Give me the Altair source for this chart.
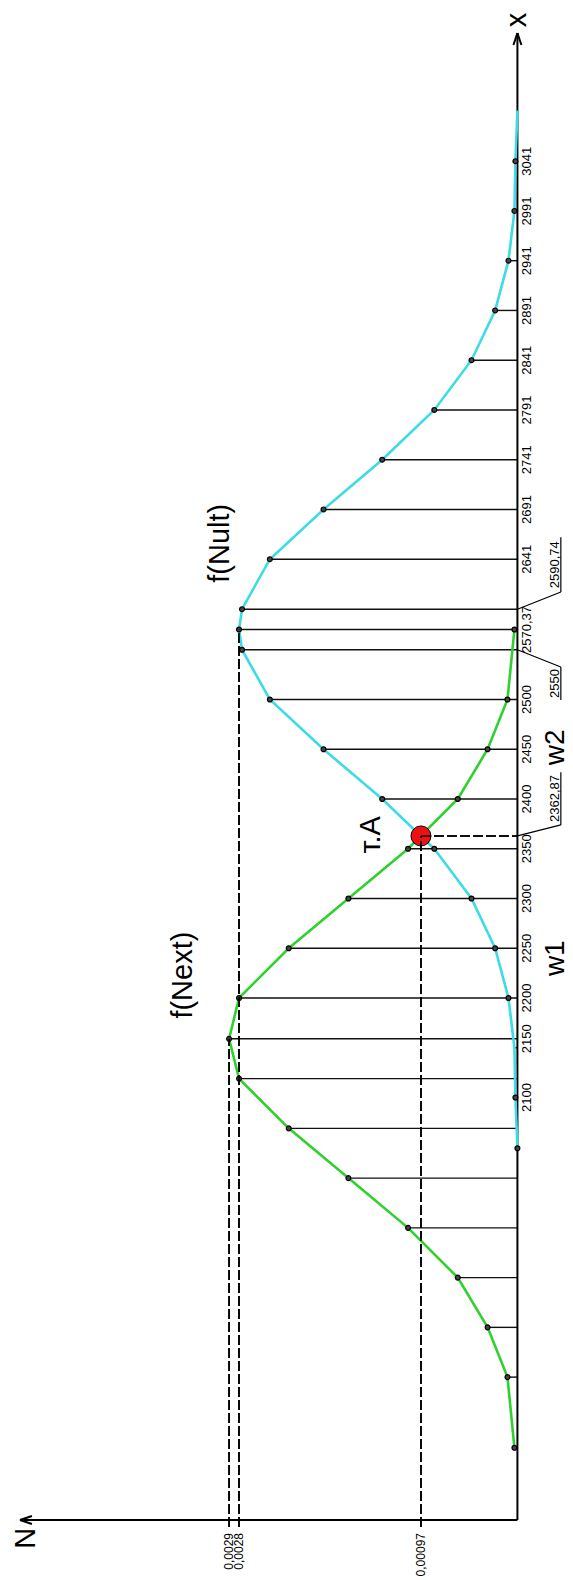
import altair as alt
import pandas as pd

# ---------------- data ----------------
green_x = [1748, 1819, 1869, 1919, 1969, 2019, 2069, 2119, 2159, 2200, 2250,
           2300, 2350, 2400, 2450, 2500, 2570.37]
green_n = [0.00003, 0.0001, 0.0003, 0.0006, 0.0011, 0.0017, 0.0023, 0.0028,
           0.0029, 0.0028, 0.0023, 0.0017, 0.0011, 0.0006, 0.0003, 0.0001, 0.00003]

cyan_x = [2049, 2100, 2150, 2200, 2250, 2300, 2350, 2400, 2450, 2500, 2550,
          2570.37, 2590.74, 2641, 2691, 2741, 2791, 2841, 2891, 2941, 2991, 3041, 3092]
cyan_n = [0.0, 0.00002, 0.00003, 0.00009, 0.000224, 0.000462, 0.000836, 0.00136,
          0.00195, 0.00249, 0.00277, 0.0028, 0.00277, 0.00249, 0.00195, 0.00136,
          0.000836, 0.000462, 0.000224, 0.00009, 0.00003, 0.00002, 0.0]
cyan_dot = [True] * len(cyan_x)
cyan_dot[2] = False
cyan_dot[-1] = False

tick_text = ["2100", "2150", "2200", "2250", "2300", "2350", "2400", "2450", "2500",
             "2570,37", "2641", "2691", "2741", "2791", "2841", "2891", "2941", "2991", "3041"]
tick_at = [2100, 2159, 2200, 2250, 2300, 2350, 2400, 2450, 2500,
           2570.37, 2641, 2691, 2741, 2791, 2841, 2891, 2941, 2991, 3041]

n_levels = [0.0029, 0.0028, 0.00097]
n_level_text = ["0,0029", "0,0028", "0,00097"]
n_level_top = [2159, 2570.37, 2362.87]

point_a_x = 2362.87
point_a_n = 0.00097

callout_text = ["2362,87", "2550", "2590,74"]
callout_from = [2362.87, 2550, 2590.74]
callout_ul_a = [2374, 2532.7, 2608]
callout_ul_b = [2427, 2499.5, 2663]

# ---------------- layout in data units ----------------
W, H = 573, 1580
N_LO, N_HI = -0.000559, 0.005204
X_LO, X_HI = 1615.1, 3203.0
X_BASE = 1675.4      # level of the N axis
X_TOP = 3169.8       # arrow tip of the x axis
N_LEFT = 0.005003    # arrow tip of the N axis
DX = 0.995           # px per x unit
DN = 99600.0         # px per N unit

xs = alt.Scale(domain=[N_LO, N_HI], reverse=True, nice=False, zero=False)
ys = alt.Scale(domain=[X_LO, X_HI], nice=False, zero=False)


def enc_pt(**kw):
    return dict(x=alt.X("N:Q", scale=xs, axis=None), y=alt.Y("X:Q", scale=ys, axis=None), **kw)


def enc_seg():
    return dict(x=alt.X("N:Q", scale=xs, axis=None), x2="N2:Q",
                y=alt.Y("X:Q", scale=ys, axis=None), y2="X2:Q")


df_g = pd.DataFrame({"X": green_x, "N": green_n})
df_c = pd.DataFrame({"X": cyan_x, "N": cyan_n, "dot": cyan_dot})

# stems: from the axis to the higher of the two curves at each point
stem = {}
for xv, nv in list(zip(green_x, green_n)) + list(zip(cyan_x, cyan_n)):
    if nv > 0:
        stem[xv] = max(stem.get(xv, 0), nv)
df_stem = pd.DataFrame({"X": list(stem.keys()), "X2": list(stem.keys()),
                        "N": [0.0] * len(stem), "N2": list(stem.values())})

stems = alt.Chart(df_stem).mark_rule(color="#111", strokeWidth=1.4).encode(**enc_seg())

# axes with arrow heads
ax_df = pd.DataFrame({
    "N": [0.0, 0.0, 0.0, 0.0, N_LEFT, N_LEFT],
    "N2": [0.0, N_LEFT, 4 / DN, -4 / DN, N_LEFT - 12 / DN, N_LEFT - 12 / DN],
    "X": [X_BASE, X_BASE, X_TOP, X_TOP, X_BASE, X_BASE],
    "X2": [X_TOP, X_BASE, X_TOP - 12 / DX, X_TOP - 12 / DX, X_BASE + 4 / DX, X_BASE - 4 / DX],
})
axes = alt.Chart(ax_df).mark_rule(color="#000", strokeWidth=2).encode(**enc_seg())

# dashed projection lines
dash_df = pd.DataFrame({
    "N": n_levels + [point_a_n],
    "N2": n_levels + [0.0],
    "X": [X_BASE - 7 / DX] * 3 + [point_a_x],
    "X2": n_level_top + [point_a_x],
})
dashed = alt.Chart(dash_df).mark_rule(color="#000", strokeWidth=1.6, strokeDash=[10, 3]).encode(**enc_seg())

green_line = alt.Chart(df_g).mark_line(color="#2fd12f", strokeWidth=2.6).encode(**enc_pt(order="X:Q"))
cyan_line = alt.Chart(df_c).mark_line(color="#3ddbe6", strokeWidth=2.6).encode(**enc_pt(order="X:Q"))

dots_df = pd.concat([df_g, df_c[df_c["dot"]][["X", "N"]]], ignore_index=True)
dots = alt.Chart(dots_df).mark_point(filled=True, size=24, fill="#444", stroke="#000",
                                     strokeWidth=1.2, opacity=1).encode(**enc_pt())

red = alt.Chart(pd.DataFrame({"X": [point_a_x], "N": [point_a_n]})).mark_point(
    filled=True, size=400, fill="#ee1111", stroke="#000", strokeWidth=1, opacity=1).encode(**enc_pt())

# callouts
N_UL = -43.5 / DN
co_df = pd.DataFrame({
    "N": [0.0] * 3 + [N_UL] * 3,
    "N2": [N_UL] * 3 + [N_UL] * 3,
    "X": callout_from + callout_ul_a,
    "X2": callout_ul_a + callout_ul_b,
})
callouts = alt.Chart(co_df).mark_rule(color="#000", strokeWidth=1.2).encode(**enc_seg())
co_txt_df = pd.DataFrame({"X": [(a + b) / 2 for a, b in zip(callout_ul_a, callout_ul_b)],
                          "N": [-41.5 / DN] * 3, "t": callout_text})
co_txt = alt.Chart(co_txt_df).mark_text(angle=270, font="Liberation Sans", fontSize=13,
                                        baseline="alphabetic", align="center", color="#000").encode(
    **enc_pt(text="t:N"))

tick_df = pd.DataFrame({"X": tick_at, "N": [-10 / DN] * len(tick_at), "t": tick_text})
ticks = alt.Chart(tick_df).mark_text(angle=270, font="Liberation Sans", fontSize=13,
                                     baseline="middle", align="center", color="#000").encode(
    **enc_pt(text="t:N"))

nlab_df = pd.DataFrame({"X": [X_BASE - 13 / DX] * 3, "N": n_levels, "t": n_level_text})
nlabs = alt.Chart(nlab_df).mark_text(angle=270, font="Liberation Sans", fontSize=12,
                                     baseline="middle", align="right", color="#000").encode(
    **enc_pt(text="t:N"))

big_df = pd.DataFrame({
    "t": ["f(Next)", "f(Nult)", "т.А", "x", "N"],
    "X": [2223, 2657, 2364, 3183, 1657],
    "N": [335 / DN, 298 / DN, 147 / DN, 0.0, 492 / DN],
})
bigs = alt.Chart(big_df).mark_text(angle=270, font="Liberation Sans", fontSize=29,
                                   baseline="middle", align="center", color="#000").encode(
    **enc_pt(text="t:N"))

w_df = pd.DataFrame({"t": ["w1", "w2"], "X": [2240, 2452], "N": [-47 / DN, -47 / DN]})
wlabs = alt.Chart(w_df).mark_text(angle=270, font="Liberation Sans", fontSize=28,
                                  baseline="alphabetic", align="center", color="#000").encode(
    **enc_pt(text="t:N"))

chart = alt.layer(stems, dashed, axes, green_line, cyan_line, callouts, dots, red,
                  dashed, ticks, co_txt, nlabs, bigs, wlabs).properties(
    width=W, height=H, padding=0, autosize=alt.AutoSizeParams(type="none"),
    background="white").configure_view(stroke=None)

chart.save("out.html", embed_options={"renderer": "svg", "actions": False})
